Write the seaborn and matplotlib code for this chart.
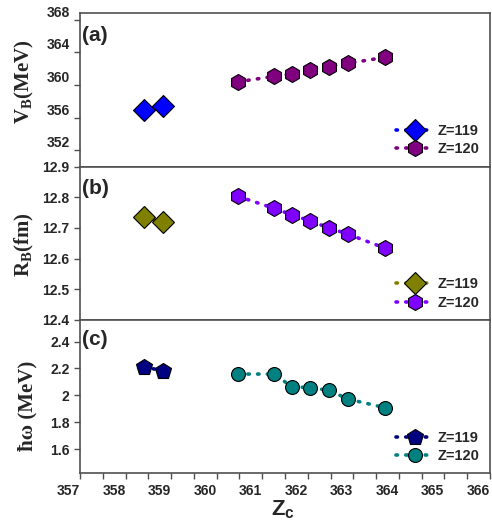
import numpy as np
import pandas as pd
import matplotlib
matplotlib.use("Agg")
import matplotlib.pyplot as plt
import seaborn as sns

# ---------------- data ----------------
series_labels = ["Z=119", "Z=120"]

zc_119 = [358.40, 358.82]
zc_120 = [360.47, 361.26, 361.65, 362.05, 362.47, 362.88, 363.70]

vb_119 = [356.9, 357.4]
vb_120 = [360.4, 361.07, 361.4, 361.86, 362.26, 362.67, 363.4]

rb_119 = [12.737, 12.718]
rb_120 = [12.803, 12.764, 12.743, 12.723, 12.700, 12.680, 12.634]

hw_119 = [2.213, 2.181]
hw_120 = [2.158, 2.158, 2.064, 2.057, 2.037, 1.972, 1.908]

x_ticks = [357, 358, 359, 360, 361, 362, 363, 364, 365, 366]
vb_ticks = [352, 356, 360, 364, 368]
rb_ticks = [12.4, 12.5, 12.6, 12.7, 12.8, 12.9]
hw_ticks = [1.6, 1.8, 2.0, 2.2, 2.4]
hw_tick_labels = ["1.6", "1.8", "2", "2.2", "2.4"]

# ---------------- style ----------------
sns.set_style("ticks")
plt.rcParams['font.family'] = ['Liberation Sans', 'DejaVu Sans']
plt.rcParams['mathtext.fontset'] = 'custom'
plt.rcParams['mathtext.rm'] = 'Liberation Serif:bold'
plt.rcParams['mathtext.bf'] = 'Liberation Serif:bold'
plt.rcParams['mathtext.sf'] = 'Liberation Sans:bold'

fig = plt.figure(figsize=(4.92, 5.21), dpi=100)
axes = fig.subplots(3, 1, sharex=True)
fig.subplots_adjust(left=0.1626, right=0.9959, top=0.9745, bottom=0.0915, hspace=0)

SPINE = '#505050'
LS = (0, (0.4, 2.3))


def draw(ax, y119, y120, c119, c120, m119, m120, ms119, ms120):
    sns.lineplot(x=zc_119, y=y119, ax=ax, color=c119, marker=m119,
                 markersize=ms119, markeredgecolor='black', markeredgewidth=0.8,
                 linestyle=LS, linewidth=2.6, dash_capstyle='round',
                 label=series_labels[0])
    sns.lineplot(x=zc_120, y=y120, ax=ax, color=c120, marker=m120,
                 markersize=ms120, markeredgecolor='black', markeredgewidth=0.8,
                 linestyle=LS, linewidth=2.6, dash_capstyle='round',
                 label=series_labels[1])
    ax.legend(loc='lower right', frameon=False, handlelength=2.6,
              handletextpad=0.3, labelspacing=0.3, borderaxespad=0.3,
              prop={'weight': 'bold', 'size': 10.5})
    for s in ax.spines.values():
        s.set_color(SPINE)
        s.set_linewidth(1.2)
    ax.tick_params(axis='both', direction='out', length=4.5, width=1.0,
                   color=SPINE, labelsize=10, pad=3)


ax_a, ax_b, ax_c = axes

draw(ax_a, vb_119, vb_120, '#0000FF', '#800080', 'D', 'h', 11.0, 11.5)
draw(ax_b, rb_119, rb_120, '#808000', '#8000FF', 'D', 'h', 11.5, 11.5)
draw(ax_c, hw_119, hw_120, '#000080', '#008080', 'p', 'o', 12.0, 10.0)

ax_c.set_xlim(357, 366)
ax_c.set_xticks(x_ticks)
ax_c.set_xticks(np.arange(357.5, 366, 1.0), minor=True)
ax_c.tick_params(axis='x', which='minor', direction='out', length=4.5, width=1.0, color=SPINE)
ax_c.set_xticklabels([str(v) for v in x_ticks], fontweight='bold', fontsize=10, ha='right')
for ax in (ax_a, ax_b):
    ax.tick_params(axis='x', which='both', bottom=False, labelbottom=False)

ax_a.set_ylim(350, 368.8)
ax_a.set_yticks(vb_ticks)
ax_a.set_yticklabels([str(v) for v in vb_ticks], fontweight='bold', va='bottom')

ax_b.set_ylim(12.4, 12.9)
ax_b.set_yticks(rb_ticks)
ax_b.set_yticklabels([f"{v:.1f}" for v in rb_ticks], fontweight='bold')

ax_c.set_ylim(1.42, 2.56)
ax_c.set_yticks(hw_ticks)
ax_c.set_yticklabels(hw_tick_labels, fontweight='bold')

ax_a.text(0.006, 0.858, '(a)', transform=ax_a.transAxes, fontsize=15,
          fontweight='bold', va='center', ha='left')
ax_b.text(0.006, 0.855, '(b)', transform=ax_b.transAxes, fontsize=15,
          fontweight='bold', va='center', ha='left')
ax_c.text(0.006, 0.87, '(c)', transform=ax_c.transAxes, fontsize=15,
          fontweight='bold', va='center', ha='left')

yfont = dict(family=['Liberation Serif', 'DejaVu Serif'], weight='bold', size=15)
fig.text(24 / 492, 1 - 81.5 / 521, r'V$_{\rm B}$(MeV)', rotation=90,
         ha='center', va='center', **yfont)
fig.text(24 / 492, 1 - 245 / 521, r'R$_{\rm B}$(fm)', rotation=90,
         ha='center', va='center', **yfont)
fig.text(27 / 492, 1 - 406 / 521, 'ħω (MeV)', rotation=90,
         ha='center', va='center', **yfont)

fig.text(283 / 492, 1 - 510 / 521, r'Z$_{\mathsf{c}}$', ha='center', va='center',
         fontsize=16, fontweight='bold', family=['Liberation Sans'])

fig.savefig('out.png', dpi=100, facecolor='white')
